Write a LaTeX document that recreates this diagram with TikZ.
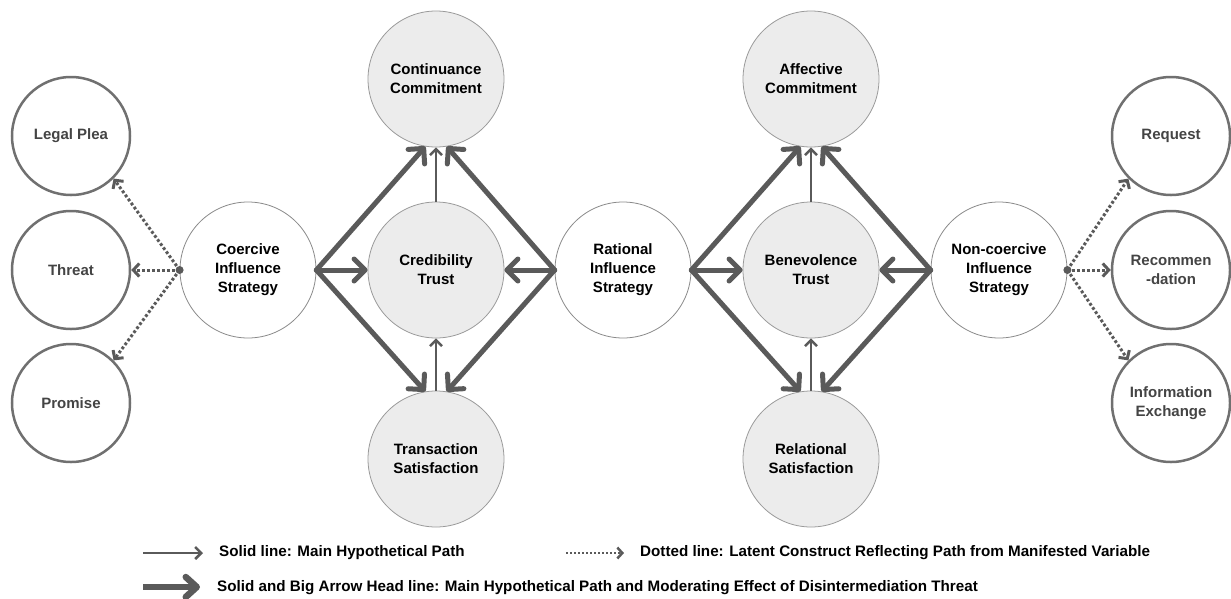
\documentclass[tikz,border=0pt]{standalone}
\usepackage{fontspec}
\setmainfont{Liberation Sans}
\usetikzlibrary{arrows.meta}
\definecolor{ln}{HTML}{5A5A5A}
\definecolor{gfill}{HTML}{ECECEC}
\definecolor{gedge}{HTML}{9A9A9A}
\definecolor{wedge}{HTML}{8A8A8A}
\definecolor{oedge}{HTML}{707070}
\definecolor{otext}{HTML}{444444}
\tikzset{
  lbl/.style={font=\fontsize{15}{19}\selectfont\bfseries, align=center, text=black},
  gcirc/.style={circle, lbl, fill=gfill, draw=gedge, line width=0.8pt, minimum size=136pt, inner sep=0pt},
  wcirc/.style={circle, lbl, fill=white, draw=wedge, line width=0.8pt, minimum size=136pt, inner sep=0pt},
  ocirc/.style={circle, lbl, text=otext, fill=white, draw=oedge, line width=2.5pt, minimum size=118pt, inner sep=0pt},
  thick arrow/.style={draw=ln, line width=5pt, line cap=round, line join=round, -{Straight Barb[length=11pt,width=22pt,round]}},
  thin arrow/.style={draw=ln, line width=2.5pt, -{Straight Barb[length=6pt,width=12pt]}},
  dot arrow/.style={draw=ln, line width=3pt, dash pattern=on 2.8pt off 2.2pt, -{Straight Barb[length=6pt,width=13pt]}},
  legtext/.style={font=\fontsize{15.2}{17}\selectfont\bfseries, anchor=west, text=black, inner sep=0pt},
}
\begin{document}
\begin{tikzpicture}[x=1pt,y=-1pt]
\useasboundingbox (0,0) rectangle (1231,598);
% outer indicator circles
\node[ocirc] (LP) at (71,136) {Legal Plea};
\node[ocirc] (TH) at (71,270) {Threat};
\node[ocirc] (PR) at (71,403) {Promise};
\node[ocirc] (RQ) at (1171,136) {Request};
\node[ocirc] (RE) at (1171,270) {Recommen\\-dation};
\node[ocirc] (IE) at (1171,403) {Information\\Exchange};
% strategies
\node[wcirc] (CO) at (248,270) {Coercive\\Influence\\Strategy};
\node[wcirc] (RA) at (623,270) {Rational\\Influence\\Strategy};
\node[wcirc] (NC) at (999,270) {Non-coercive\\Influence\\Strategy};
% outcomes
\node[gcirc] (CC) at (436,79) {Continuance\\Commitment};
\node[gcirc] (CT) at (436,270) {Credibility\\Trust};
\node[gcirc] (TS) at (436,459) {Transaction\\Satisfaction};
\node[gcirc] (AC) at (811,79) {Affective\\Commitment};
\node[gcirc] (BT) at (811,270) {Benevolence\\Trust};
\node[gcirc] (RS) at (811,459) {Relational\\Satisfaction};
% dotted reflective paths
\fill[ln] (CO.west) circle (4pt);
\fill[ln] (NC.east) circle (4pt);
\draw[dot arrow] (CO.west) -- (LP.-45);
\draw[dot arrow] (CO.west) -- (TH.east);
\draw[dot arrow] (CO.west) -- (PR.45);
\draw[dot arrow] (NC.east) -- (RQ.-135);
\draw[dot arrow] (NC.east) -- (RE.west);
\draw[dot arrow] (NC.east) -- (IE.135);
% thick paths, left block
\draw[thick arrow] (CO.east) -- (CT.west);
\draw[thick arrow] (CO.east) -- (CC.-99);
\draw[thick arrow] (CO.east) -- (TS.99);
\draw[thick arrow] (RA.west) -- (CT.east);
\draw[thick arrow] (RA.west) -- (CC.-81);
\draw[thick arrow] (RA.west) -- (TS.81);
% thick paths, right block
\draw[thick arrow] (RA.east) -- (BT.west);
\draw[thick arrow] (RA.east) -- (AC.-99);
\draw[thick arrow] (RA.east) -- (RS.99);
\draw[thick arrow] (NC.west) -- (BT.east);
\draw[thick arrow] (NC.west) -- (AC.-81);
\draw[thick arrow] (NC.west) -- (RS.81);
% thin paths
\draw[thin arrow] (CT.north) -- (CC.south);
\draw[thin arrow] (TS.north) -- (CT.south);
\draw[thin arrow] (BT.north) -- (AC.south);
\draw[thin arrow] (RS.north) -- (BT.south);
% legend
\coordinate (l1a) at (143,553); \coordinate (l1b) at (203,553);
\coordinate (l2a) at (566,553); \coordinate (l2b) at (624,553);
\coordinate (l3a) at (143,587); \coordinate (l3b) at (200,587);
\draw[thin arrow] (l1a) -- (l1b);
\draw[dot arrow, line width=2.5pt, dash pattern=on 2pt off 2pt, -{Straight Barb[length=5pt,width=11pt]}] (l2a) -- (l2b);
\draw[draw=ln, line width=6.5pt, -{Straight Barb[length=11pt,width=20pt,round]}] (l3a) -- (l3b);
\node[legtext] (t1) at (219,553) {Solid line: Main Hypothetical Path};
\node[legtext] (t2) at (640,553) {Dotted line: Latent Construct Reflecting Path from Manifested Variable};
\node[legtext] (t3) at (217,588) {Solid and Big Arrow Head line: Main Hypothetical Path and Moderating Effect of Disintermediation Threat};
\end{tikzpicture}
\end{document}
